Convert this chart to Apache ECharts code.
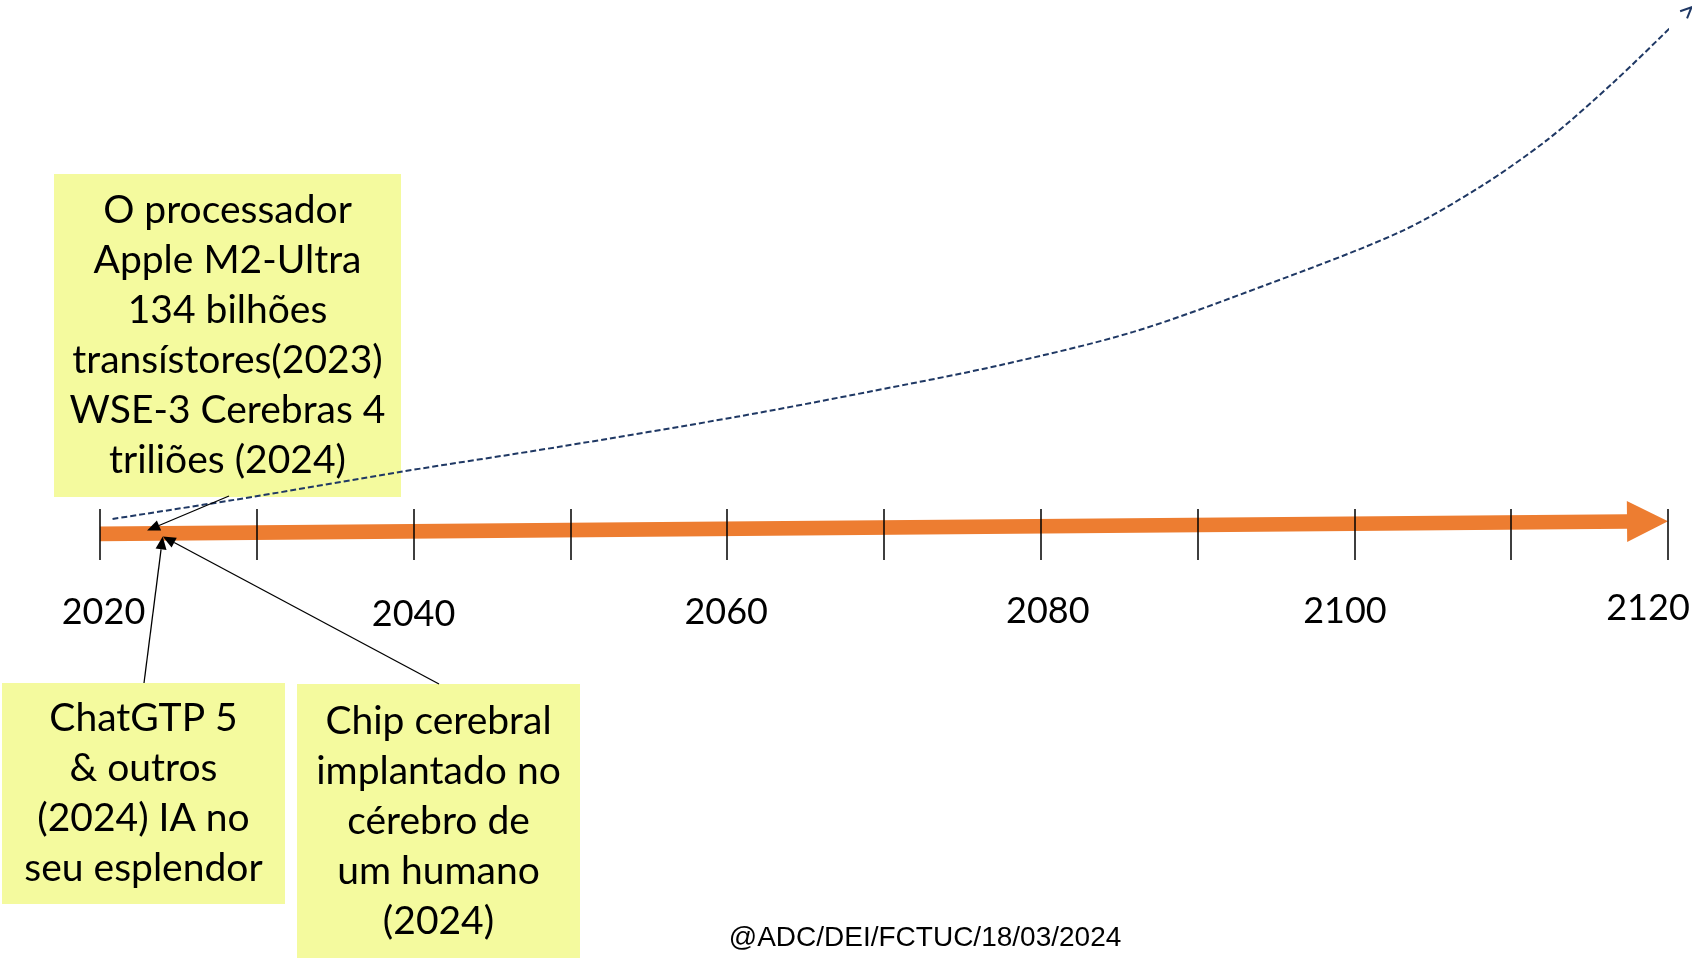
<!DOCTYPE html>
<html>
<head>
<meta charset="utf-8">
<script src="https://cdn.jsdelivr.net/npm/echarts@6/dist/echarts.min.js"></script>
<style>
html,body{margin:0;padding:0;background:#fff;}
#chart{width:1692px;height:958px;}
</style>
</head>
<body>
<div id="chart"></div>
<script>
// ---------- data ----------
const axisMin = 2020;
const axisMax = 2120;
const tickStep = 10;
const labelYears = [2020, 2040, 2060, 2080, 2100, 2120];

// orange timeline arrow (start / end)
const timelineYears = [2020, 2120];
const timelineValues = [4.7, 7.0];

// dashed growth curve
const trendYears  = [2020.8, 2029.8, 2039.2, 2049.3, 2060.6, 2069.2, 2077.4, 2085.9, 2094.4, 2102.9, 2108.0, 2112.3, 2116.5, 2120.8, 2121.5];
const trendValues = [7.4,    11.4,   15.9,   20.4,   25.8,   30.4,   35.1,   41.1,   49.6,   59.1,   67.2,   75.7,   86.0,   97.7,   99.6];

// annotations
const noteYears = [2023, 2024, 2024];
const noteTexts = [
  'O processador\nApple M2-Ultra\n134 bilhões\ntransístores(2023)\nWSE-3 Cerebras 4\ntriliões (2024)',
  'ChatGTP 5\n& outros\n(2024) IA no\nseu esplendor',
  'Chip cerebral\nimplantado no\ncérebro de\num humano\n(2024)'
];
const creditText = '@ADC/DEI/FCTUC/18/03/2024';

// ---------- layout / style ----------
const boxLayout = [
  {x: 54,  y: 174, w: 347, h: 323, tail: [229, 496], tipDy: -3},
  {x: 2,   y: 683, w: 283, h: 221, tail: [144, 683], tipDy: 3},
  {x: 297, y: 684, w: 283, h: 274, tail: [439, 684], tipDy: 3}
];
const labelNudge = {2020: [3.5, 1], 2040: [0, 5], 2060: [-1, 1], 2080: [7, 0], 2100: [-9.5, 0], 2120: [-20, -7]};
const ORANGE = '#ED7D31';
const NAVY = '#1F3864';
const BOX = '#F4FA9E';
const FONT = 'Lato, "Open Sans", sans-serif';

function timelineValueAt(yr) {
  const t = (yr - timelineYears[0]) / (timelineYears[1] - timelineYears[0]);
  return timelineValues[0] + t * (timelineValues[1] - timelineValues[0]);
}

const rich = {};
labelYears.forEach(y => {
  const n = labelNudge[y] || [0, 0];
  const dx = n[0], dy = n[1];
  rich['y' + y] = {
    fontFamily: FONT, fontSize: 36, lineHeight: 40, color: '#000',
    padding: [dy + 7, dx < 0 ? -2 * dx : 0, 0, dx > 0 ? 2 * dx : 0]
  };
});

const chart = echarts.init(document.getElementById('chart'), null, {renderer: 'canvas'});

const option = {
  animation: false,
  backgroundColor: '#fff',
  grid: {left: 100, right: 24, top: 5, bottom: 398, containLabel: false, outerBoundsMode: 'none'},
  xAxis: {
    type: 'value', min: axisMin, max: axisMax, interval: tickStep, z: 5,
    axisLine: {show: false},
    splitLine: {show: false},
    axisTick: {show: true, inside: true, length: 51, lineStyle: {color: '#000', width: 1.5}},
    axisLabel: {
      margin: 28,
      formatter: v => (labelYears.indexOf(v) >= 0 ? '{y' + v + '|' + v + '}' : ''),
      rich: rich
    }
  },
  yAxis: {type: 'value', min: 0, max: 100, show: false},
  series: [
    {
      type: 'custom', name: 'timeline', z: 2, clip: false,
      data: [[timelineYears[0], timelineValues[0], timelineYears[1], timelineValues[1]]],
      encode: {x: [0, 2], y: [1, 3]},
      renderItem: function (params, api) {
        const p0 = api.coord([api.value(0), api.value(1)]);
        const p1 = api.coord([api.value(2), api.value(3)]);
        const dx = p1[0] - p0[0], dy = p1[1] - p0[1];
        const L = Math.hypot(dx, dy);
        const ux = dx / L, uy = dy / L, nx = -uy, ny = ux;
        const headLen = 41, headHalf = 20.5, half = 7.3;
        const bx = p1[0] - ux * headLen, by = p1[1] - uy * headLen;
        const pts = [
          [p0[0] + nx * half, p0[1] + ny * half],
          [bx + nx * half, by + ny * half],
          [bx + nx * headHalf, by + ny * headHalf],
          [p1[0], p1[1]],
          [bx - nx * headHalf, by - ny * headHalf],
          [bx - nx * half, by - ny * half],
          [p0[0] - nx * half, p0[1] - ny * half]
        ];
        return {type: 'polygon', shape: {points: pts}, style: {fill: ORANGE}};
      }
    },
    {
      type: 'line', name: 'trend', z: 3, clip: false,
      data: trendYears.map((x, i) => [x, trendValues[i]]),
      smooth: 0.3, showSymbol: false, symbol: 'none',
      lineStyle: {color: NAVY, width: 2, type: [6, 3]}
    },
    {
      type: 'custom', name: 'trendHead', z: 3, clip: false,
      data: [[trendYears[trendYears.length - 1], trendValues[trendValues.length - 1],
              trendYears[trendYears.length - 3], trendValues[trendValues.length - 3]]],
      encode: {x: [0, 2], y: [1, 3]},
      renderItem: function (params, api) {
        const tip = api.coord([api.value(0), api.value(1)]);
        const prev = api.coord([api.value(2), api.value(3)]);
        const dx = tip[0] - prev[0], dy = tip[1] - prev[1];
        const L = Math.hypot(dx, dy);
        const ux = dx / L, uy = dy / L, nx = -uy, ny = ux;
        const len = 11, w = 5;
        return {
          type: 'polyline',
          shape: {points: [
            [tip[0] - ux * len + nx * w, tip[1] - uy * len + ny * w],
            tip,
            [tip[0] - ux * len - nx * w, tip[1] - uy * len - ny * w]
          ]},
          style: {stroke: NAVY, lineWidth: 2, fill: null}
        };
      }
    },
    {
      type: 'custom', name: 'notes', z: 6, clip: false,
      data: noteYears.map((y, i) => [y, timelineValueAt(y), i]),
      encode: {x: 0, y: 1},
      renderItem: function (params, api) {
        const i = api.value(2);
        const b = boxLayout[i];
        const tip = api.coord([api.value(0), api.value(1)]);
        tip[1] += b.tipDy;
        const tail = b.tail;
        const dx = tip[0] - tail[0], dy = tip[1] - tail[1];
        const L = Math.hypot(dx, dy);
        const ux = dx / L, uy = dy / L, nx = -uy, ny = ux;
        const hl = 13, hw = 5.5;
        const base = [tip[0] - ux * hl, tip[1] - uy * hl];
        return {
          type: 'group',
          children: [
            {type: 'line', shape: {x1: tail[0], y1: tail[1], x2: base[0], y2: base[1]},
             style: {stroke: '#000', lineWidth: 1.3}},
            {type: 'polygon', shape: {points: [
              tip, [base[0] + nx * hw, base[1] + ny * hw], [base[0] - nx * hw, base[1] - ny * hw]
            ]}, style: {fill: '#000'}}
          ]
        };
      }
    }
  ],
  graphic: boxLayout.map((b, i) => ({
    type: 'group', left: b.x, top: b.y, z: 100,
    children: [
      {type: 'rect', shape: {x: 0, y: 0, width: b.w, height: b.h}, style: {fill: BOX}},
      {type: 'text', x: b.w / 2, y: b.h / 2,
       style: {text: noteTexts[i], fontFamily: FONT, fontSize: 39, lineHeight: 50,
               fill: '#000', align: 'center', verticalAlign: 'middle'}}
    ]
  })).concat([
    {type: 'text', z: 100, x: 925, y: 938,
     style: {text: creditText, fontFamily: '"Liberation Sans", Arial, sans-serif', fontSize: 28,
             fill: '#000', align: 'center', verticalAlign: 'middle'}}
  ])
};

chart.setOption(option);
</script>
</body>
</html>
